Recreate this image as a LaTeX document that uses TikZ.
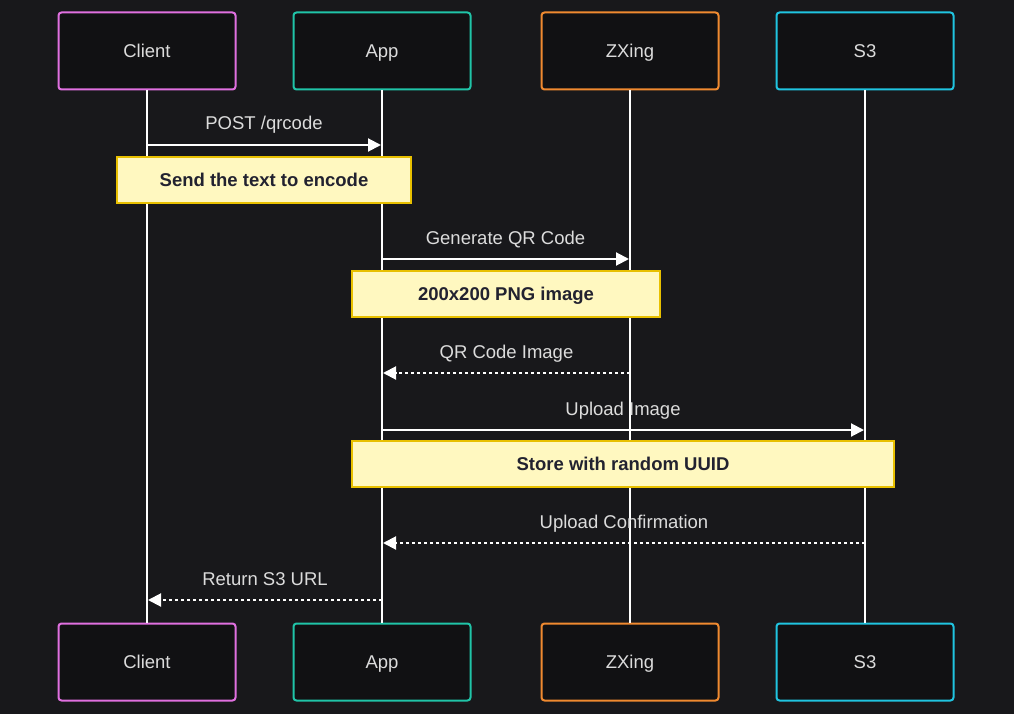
\documentclass[tikz,border=0pt]{standalone}
\usepackage{fontspec}
\setmainfont{Liberation Sans}
\usetikzlibrary{arrows.meta}
\definecolor{bg}{HTML}{18181B}
\definecolor{boxfill}{HTML}{111113}
\definecolor{cclient}{HTML}{E070E0}
\definecolor{capp}{HTML}{20C4A8}
\definecolor{czx}{HTML}{F08A30}
\definecolor{cs3}{HTML}{20C4E0}
\definecolor{txt}{HTML}{DCDCDC}
\definecolor{notefill}{HTML}{FFF8C0}
\definecolor{noteline}{HTML}{E8C000}
\definecolor{notetxt}{HTML}{222230}
\begin{document}
\begin{tikzpicture}[x=1pt,y=-1pt,
  actor/.style={draw, rounded corners=3pt, fill=boxfill, line width=2pt, minimum width=177pt, minimum height=77pt, text=txt, font=\fontsize{18.5}{22}\selectfont, inner sep=0pt, text height=13.5pt, text depth=0pt},
  notebox/.style={draw=noteline, fill=notefill, line width=2pt, minimum height=46pt, text=notetxt, font=\fontsize{18.5}{22}\selectfont\bfseries, inner sep=0pt, text height=13.5pt, text depth=0pt},
  lifeline/.style={draw=white, line width=2pt},
  msg/.style={draw=white, line width=2pt, -{Triangle[length=13pt,width=13pt]}},
  reply/.style={msg, dash pattern=on 3pt off 3pt},
  lbl/.style={text=txt, font=\fontsize{18.5}{22}\selectfont, inner sep=0pt, anchor=base, yshift=15pt}
]
\useasboundingbox (0,0) rectangle (1014,714);
\fill[bg] (0,0) rectangle (1014,714);

% actors
\node[actor, draw=cclient] (c1) at (147,51) {Client};
\node[actor, draw=capp] (a1) at (382,51) {App};
\node[actor, draw=czx] (z1) at (630,51) {ZXing};
\node[actor, draw=cs3] (s1) at (865,51) {S3};
\node[actor, draw=cclient] (c2) at (147,662) {Client};
\node[actor, draw=capp] (a2) at (382,662) {App};
\node[actor, draw=czx] (z2) at (630,662) {ZXing};
\node[actor, draw=cs3] (s2) at (865,662) {S3};

% lifelines
\draw[lifeline] (c1.south) -- (c2.north);
\draw[lifeline] (a1.south) -- (a2.north);
\draw[lifeline] (z1.south) -- (z2.north);
\draw[lifeline] (s1.south) -- (s2.north);

% messages
\coordinate (m1c) at (147,145); \coordinate (m1a) at (381,145);
\draw[msg] (m1c) -- node[lbl] {POST /qrcode} (m1a);
\coordinate (m2a) at (382,259); \coordinate (m2z) at (629,259);
\draw[msg] (m2a) -- node[lbl] {Generate QR Code} (m2z);
\coordinate (m3z) at (630,373); \coordinate (m3a) at (383,373);
\draw[reply] (m3z) -- node[lbl] {QR Code Image} (m3a);
\coordinate (m4a) at (382,430); \coordinate (m4s) at (864,430);
\draw[msg] (m4a) -- node[lbl] {Upload Image} (m4s);
\coordinate (m5s) at (865,543); \coordinate (m5a) at (383,543);
\draw[reply] (m5s) -- node[lbl] {Upload Confirmation} (m5a);
\coordinate (m6a) at (382,600); \coordinate (m6c) at (148,600);
\draw[reply] (m6a) -- node[lbl] {Return S3 URL} (m6c);

% notes
\node[notebox, minimum width=294pt] (n1) at (264,180) {Send the text to encode};
\node[notebox, minimum width=308pt] (n2) at (506,294) {200x200 PNG image};
\node[notebox, minimum width=542pt] (n3) at (623,464) {Store with random UUID};
\end{tikzpicture}
\end{document}
